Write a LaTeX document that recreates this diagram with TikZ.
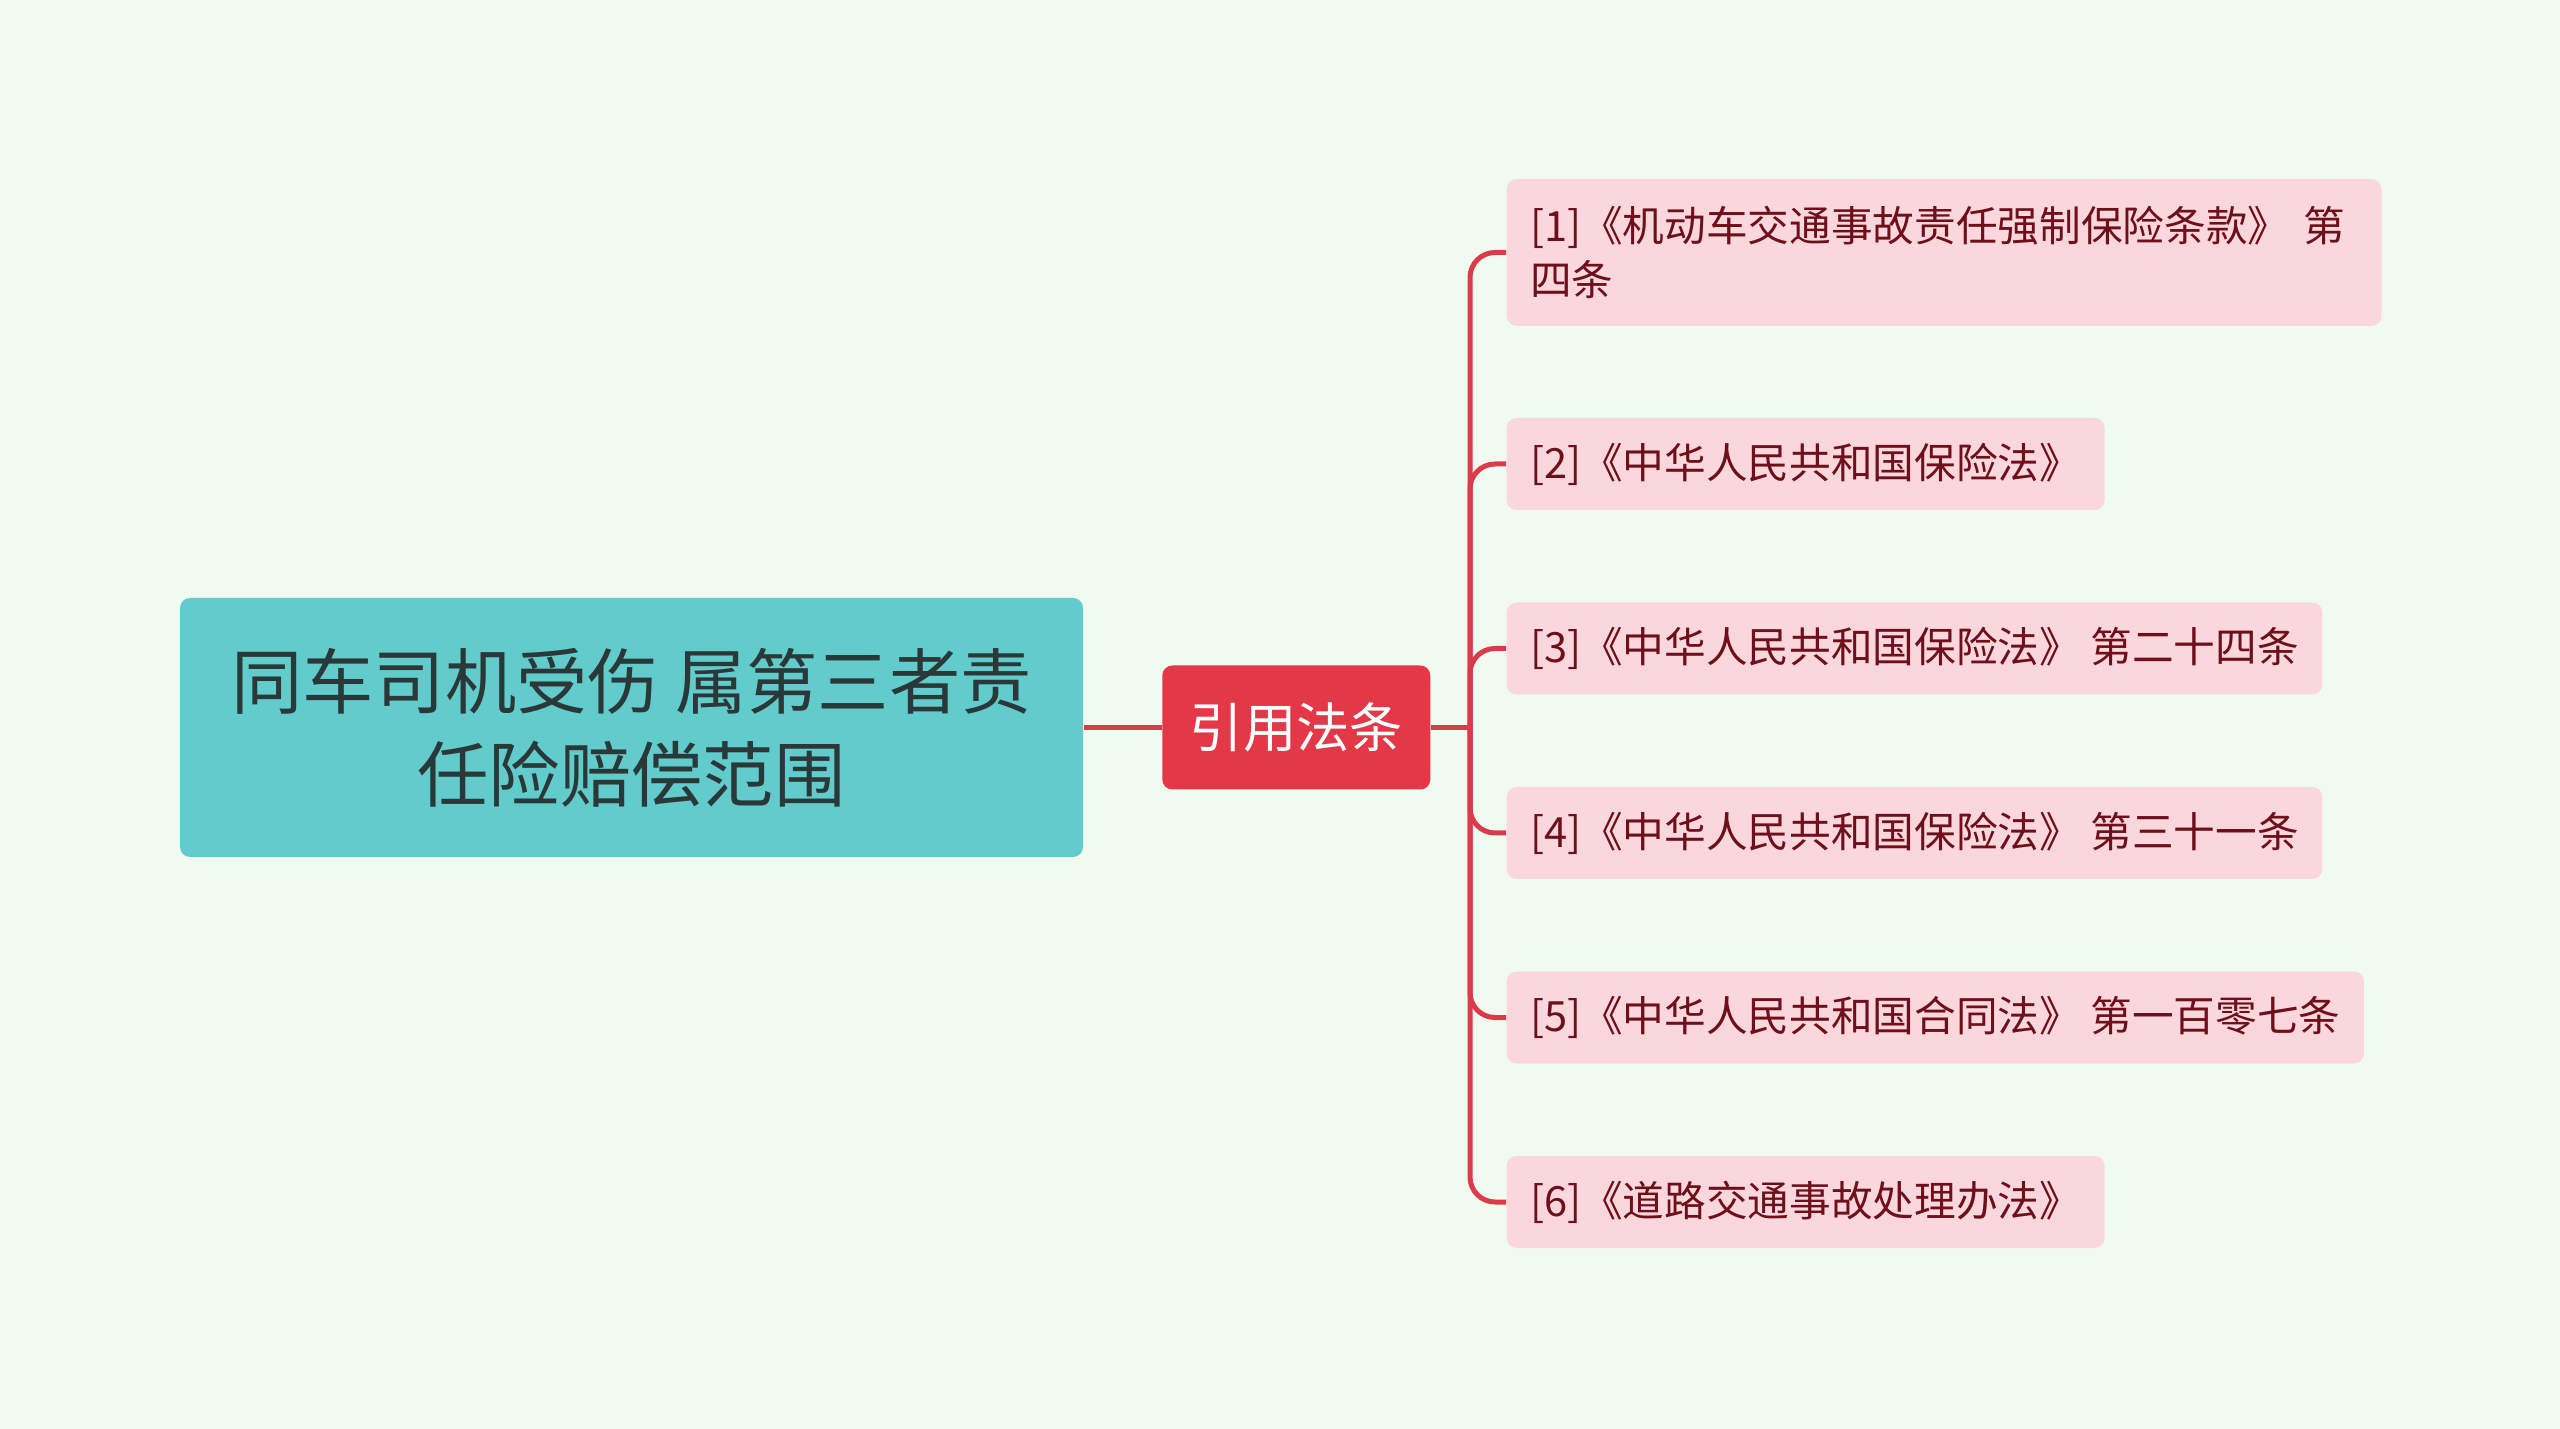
\documentclass[tikz,border=0pt]{standalone}
\usepackage{fontspec}
\setmainfont{Noto Sans CJK SC}
\usepackage{xcolor}
\usetikzlibrary{positioning}
\definecolor{canvas}{HTML}{F0FAF0}
\definecolor{rootfill}{HTML}{62CBCC}
\definecolor{roottext}{HTML}{2B3838}
\definecolor{hubfill}{HTML}{E33847}
\definecolor{leaffill}{HTML}{FAD7DC}
\definecolor{leaftext}{HTML}{6E0F1A}
\definecolor{linkred}{HTML}{DB3A4A}
\tikzset{
    rootbox/.style={rectangle, fill=rootfill, text=roottext, align=center, rounded corners=3pt, minimum width=270.9pt, minimum height=77.7pt, font=\fontsize{21.4}{27.9}\selectfont},
    hubbox/.style={rectangle, fill=hubfill, text=white, rounded corners=3pt, minimum width=80.4pt, minimum height=37.2pt, font=\fontsize{16}{20}\selectfont},
    leafbox/.style={rectangle, fill=leaffill, text=leaftext, anchor=west, align=left, rounded corners=3pt, inner xsep=7pt, inner ysep=7pt, minimum height=27.6pt, font=\fontsize{12.5}{16.2}\selectfont},
    link/.style={draw=linkred, line width=1.5pt},
    branch/.style={link, rounded corners=7.5pt}
}

\begin{document}
\begin{tikzpicture}[x=0.3pt, y=-0.3pt]
    % Canvas
    \fill [canvas] (0,0) rectangle (2560,1429);
    \useasboundingbox (0,0) rectangle (2560,1429);

    % Nodes
    \node [rootbox] (topic) at (631.5,727.5) {同车司机受伤 属第三者责\\任险赔偿范围};
    \node [hubbox, right=23.4pt of topic] (cite) {引用法条};
    \coordinate [right=11.7pt of cite] (fork);

    % Cited laws
    \node [leafbox, text width=248.5pt, minimum height=44pt] (law1) at (1506,252.5) {[1]《机动车交通事故责任强制保险条款》 第\\四条};
    \node [leafbox] (law2) at (1506,464) {[2]《中华人民共和国保险法》};
    \node [leafbox] (law3) at (1506,648.5) {[3]《中华人民共和国保险法》 第二十四条};
    \node [leafbox] (law4) at (1506,833) {[4]《中华人民共和国保险法》 第三十一条};
    \node [leafbox] (law5) at (1506,1017.5) {[5]《中华人民共和国合同法》 第一百零七条};
    \node [leafbox] (law6) at (1506,1202) {[6]《道路交通事故处理办法》};

    % Links
    \draw [link] (topic) -- (cite);
    \draw [link] (cite) -- (fork);
    \foreach \n in {1,...,6}
        \draw [branch] (fork) |- (law\n.west);
\end{tikzpicture}
\end{document}
